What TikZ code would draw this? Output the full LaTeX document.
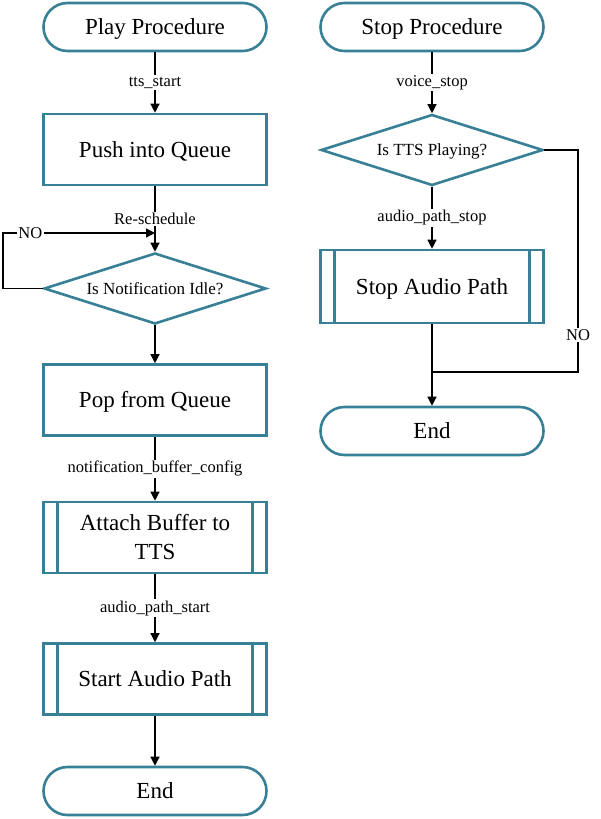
\documentclass[tikz,border=0pt]{standalone}
\usepackage{fontspec}
\setmainfont{Liberation Serif}
\usetikzlibrary{shapes.geometric,arrows.meta,calc}
\definecolor{tealline}{HTML}{388096}
\begin{document}
\begin{tikzpicture}[x=1pt,y=-1pt,
  base/.style={draw=tealline, line width=2.6pt, fill=white, text=black, inner sep=0pt, text height=18pt, text depth=3pt, font=\fontsize{23}{29}\selectfont},
  term/.style={base, rounded corners=24pt, minimum width=223pt, minimum height=48pt},
  proc/.style={base, rectangle, minimum width=223pt, minimum height=71pt},
  subproc/.style={proc, path picture={
      \draw[tealline, line width=2.6pt] ([xshift=14pt]path picture bounding box.north west) -- ([xshift=14pt]path picture bounding box.south west);
      \draw[tealline, line width=2.6pt] ([xshift=-14pt]path picture bounding box.north east) -- ([xshift=-14pt]path picture bounding box.south east);}},
  decision/.style={base, diamond, aspect=3.1, minimum width=222pt, minimum height=71pt, text height=13pt, text depth=2pt, font=\fontsize{17}{20}\selectfont},
  conn/.style={line width=1.3pt, draw=black},
  arr/.style={conn, -{Triangle[length=9pt,width=9pt]}},
  lbl/.style={fill=white, inner sep=1.5pt, font=\fontsize{16.5}{18}\selectfont}
]
\useasboundingbox[fill=white] (0,0) rectangle (601,819);

% left column
\node[term] (play) at (155,27) {Play Procedure};
\node[proc] (push) at (155,149.5) {Push into Queue};
\node[decision] (idle) at (155,288.5) {Is Notification Idle?};
\node[proc] (pop) at (155,400) {Pop from Queue};
\node[subproc, align=center, text height=47pt] (attach) at (155,537.5) {Attach Buffer to\\TTS};
\node[subproc] (startap) at (155,679) {Start Audio Path};
\node[term] (end1) at (155,791) {End};

% right column
\node[term] (stopproc) at (432,27) {Stop Procedure};
\node[decision] (playing) at (432,150) {Is TTS Playing?};
\node[subproc, minimum height=73pt] (stopap) at (432,286.5) {Stop Audio Path};
\node[term] (end2) at (432,431) {End};

% left connectors
\draw[arr] (play) -- node[lbl]{tts\_start} (push);
\draw[arr] (push) -- node[lbl]{Re-schedule} (idle);
\coordinate (loopA) at (3,288.5);
\coordinate (loopB) at (3,233);
\coordinate (loopC) at (155,233);
\draw[arr] (idle.west) -- (loopA) -- (loopB) -- node[lbl,pos=0.18]{NO} (loopC);
\draw[arr] (idle) -- (pop);
\draw[arr] (pop) -- node[lbl]{notification\_buffer\_config} (attach);
\draw[arr] (attach) -- node[lbl]{audio\_path\_start} (startap);
\draw[arr] (startap) -- (end1);

% right connectors
\draw[arr] (stopproc) -- node[lbl]{voice\_stop} (playing);
\draw[arr] (playing) -- node[lbl]{audio\_path\_stop} (stopap);
\draw[arr] (stopap) -- (end2);
\coordinate (noA) at (578,150);
\coordinate (noB) at (578,372);
\coordinate (join) at (432,372);
\draw[conn] (playing.east) -- (noA) -- node[lbl,pos=0.833]{NO} (noB) -- (join);
\end{tikzpicture}
\end{document}
